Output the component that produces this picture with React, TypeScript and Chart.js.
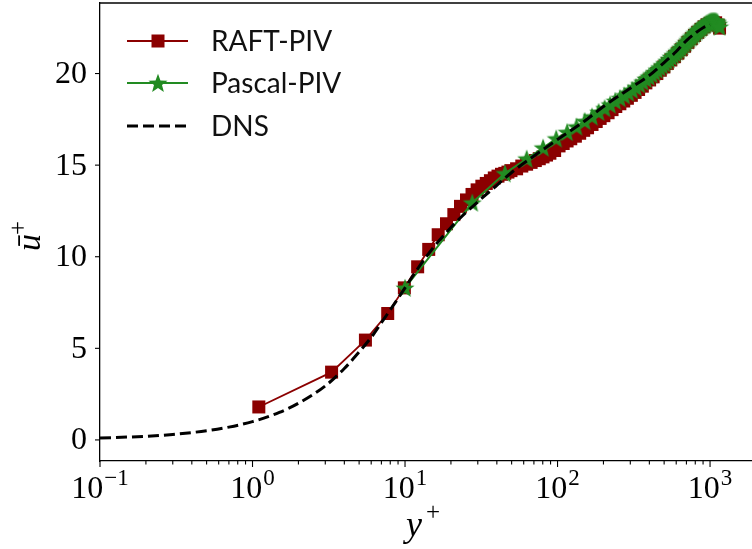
import React, { useEffect, useRef } from "react";
import { Chart, registerables } from "chart.js";

Chart.register(...registerables);

// ---------- data ----------
const raftYPlus = [
  1.1, 3.3, 5.5, 7.7, 9.9, 12.1, 14.3, 16.5, 18.7, 20.9, 23.1, 25.3, 27.5, 29.7, 31.9, 34.1, 36.3, 38.5,
  40.7, 42.9, 45.1, 47.3, 49.5, 53.9, 58.3, 62.7, 67.1, 71.5, 75.9, 80.3, 84.7, 89.1, 95.7, 102.3, 108.9,
  115.5, 122.1, 130.9, 139.7, 148.5, 157.3, 168.3, 179.3, 190.3, 201.3, 214.5, 227.7, 240.9, 256.3, 271.7,
  287.1, 304.7, 322.3, 339.9, 359.7, 379.5, 401.5, 423.5, 447.7, 471.9, 498.3, 524.7, 553.3, 584.1, 614.9,
  647.9, 680.9, 716.1, 753.5, 790.9, 830.5, 872.3, 914.1, 955.9, 999.9, 1043.9, 1087.9, 1131.9, 1154,
];
const raftU = [
  1.8, 3.7, 5.45, 6.9, 8.3, 9.45, 10.4, 11.2, 11.8, 12.3, 12.75, 13.1, 13.4, 13.65, 13.85, 14.0, 14.15, 14.3,
  14.4, 14.5, 14.55, 14.62, 14.7, 14.8, 14.95, 15.05, 15.15, 15.25, 15.35, 15.45, 15.55, 15.65, 15.8, 16.05, 16.18,
  16.32, 16.44, 16.58, 16.74, 16.9, 17.04, 17.22, 17.38, 17.55, 17.7, 17.86, 18.03, 18.2, 18.35, 18.5,
  18.65, 18.81, 18.97, 19.13, 19.31, 19.49, 19.65, 19.82, 20.0, 20.18, 20.36, 20.55, 20.74, 20.92, 21.11,
  21.3, 21.49, 21.7, 21.9, 22.08, 22.25, 22.41, 22.55, 22.66, 22.74, 22.78, 22.77, 22.64, 22.48,
];

const pascalYPlus = [
  10, 27.6, 45.2, 62.8, 80.4, 98, 115.6, 133.2, 150.8, 168.4, 186, 203.6, 221.2, 238.8, 256.4, 274, 291.6,
  309.2, 326.8, 344.4, 362, 379.6, 397.2, 414.8, 432.4, 450, 467.6, 485.2, 502.8, 520.4, 538, 555.6, 573.2,
  590.8, 608.4, 626, 643.6, 661.2, 678.8, 696.4, 714, 731.6, 749.2, 766.8, 784.4, 802, 819.6, 837.2, 854.8,
  872.4, 890, 907.6, 925.2, 942.8, 960.4, 978, 995.6, 1013.2, 1030.8, 1048.4, 1066, 1083.6, 1101.2, 1118.8,
  1136.4, 1154,
];
const pascalU = [
  8.3, 12.95, 14.55, 15.35, 15.95, 16.45, 16.8, 17.1, 17.4, 17.65, 17.9, 18.1, 18.3, 18.5, 18.65, 18.8, 18.95,
  19.1, 19.25, 19.4, 19.55, 19.7, 19.82, 19.95, 20.07, 20.2, 20.32, 20.44, 20.55, 20.67, 20.78, 20.9, 21.0,
  21.1, 21.2, 21.3, 21.4, 21.5, 21.6, 21.7, 21.8, 21.9, 21.98, 22.06, 22.14, 22.22, 22.3, 22.37, 22.44,
  22.5, 22.56, 22.62, 22.67, 22.72, 22.76, 22.8, 22.83, 22.85, 22.86, 22.87, 22.87, 22.86, 22.84, 22.8,
  22.7, 22.55,
];

const dnsYPlus = [
  0.1, 0.2, 0.3, 0.5, 0.7, 1, 1.5, 2, 3, 4, 5, 6, 7, 8, 10, 12, 15, 20, 25, 30, 40, 50, 70, 100, 150, 200,
  300, 400, 500, 600, 700, 800, 900, 1000,
];
const dnsU = [
  0.1, 0.2, 0.3, 0.5, 0.7, 1.0, 1.5, 2.0, 2.95, 3.9, 4.8, 5.6, 6.4, 7.1, 8.3, 9.3, 10.4, 11.6, 12.4, 13.0,
  13.9, 14.6, 15.5, 16.4, 17.4, 18.2, 19.2, 19.9, 20.6, 21.2, 21.8, 22.2, 22.5, 22.65,
];

const xMajorTicks = [0.1, 1, 10, 100, 1000];
const xTickExponents = ["\u22121", "0", "1", "2", "3"];
const yTicks = [0, 5, 10, 15, 20];
const yTickLabels = ["0", "5", "10", "15", "20"];
const legendLabels = ["RAFT-PIV", "Pascal-PIV", "DNS"];

const RAFT_COLOR = "#8b0000";
const PASCAL_COLOR = "#228b22";
const SERIF = "'Liberation Serif', 'DejaVu Serif', serif";
const SANS = "Lato, 'DejaVu Sans', sans-serif";

function makeStar(size: number, color: string): HTMLCanvasElement {
  const c = document.createElement("canvas");
  c.width = size;
  c.height = size;
  const ctx = c.getContext("2d")!;
  const cx = size / 2;
  const cy = size / 2 + 0.8;
  const R = size / 2;
  const r = R * 0.42;
  ctx.beginPath();
  for (let i = 0; i < 10; i++) {
    const ang = -Math.PI / 2 + (i * Math.PI) / 5;
    const rad = i % 2 === 0 ? R : r;
    ctx.lineTo(cx + rad * Math.cos(ang), cy + rad * Math.sin(ang));
  }
  ctx.closePath();
  ctx.fillStyle = color;
  ctx.fill();
  return c;
}

export default function App() {
  const ref = useRef<HTMLCanvasElement | null>(null);

  useEffect(() => {
    document.body.style.margin = "0";
    const canvas = ref.current;
    if (!canvas) return;
    const star = makeStar(20, PASCAL_COLOR);

    const decor = {
      id: "decor",
      afterDraw(chart: any) {
        const { ctx, chartArea: ca, scales } = chart;
        const xs = scales.x;
        const ys = scales.y;
        ctx.save();
        ctx.strokeStyle = "#000";
        ctx.fillStyle = "#000";
        // top spine
        ctx.lineWidth = 1.3;
        ctx.beginPath();
        ctx.moveTo(ca.left, ca.top);
        ctx.lineTo(ca.right, ca.top);
        ctx.stroke();
        // x ticks (major + minor)
        ctx.lineWidth = 1.1;
        for (let d = -1; d <= 3; d++) {
          for (let k = 1; k <= 9; k++) {
            const v = k * Math.pow(10, d);
            if (v < xs.min || v > xs.max) continue;
            const px = xs.getPixelForValue(v);
            const len = k === 1 ? 6 : 3.5;
            ctx.beginPath();
            ctx.moveTo(px, ca.bottom);
            ctx.lineTo(px, ca.bottom + len);
            ctx.stroke();
          }
        }
        // y ticks + labels
        ctx.textAlign = "right";
        ctx.textBaseline = "middle";
        ctx.font = `32px ${SERIF}`;
        yTicks.forEach((v, i) => {
          const py = ys.getPixelForValue(v);
          ctx.beginPath();
          ctx.moveTo(ca.left - 5, py);
          ctx.lineTo(ca.left, py);
          ctx.stroke();
          ctx.fillText(yTickLabels[i], 87, py + 1);
        });
        // x tick labels 10^n
        ctx.textBaseline = "alphabetic";
        ctx.textAlign = "left";
        xMajorTicks.forEach((v, i) => {
          const px = xs.getPixelForValue(v);
          ctx.font = `32px ${SERIF}`;
          const wb = ctx.measureText("10").width;
          ctx.font = `23px ${SERIF}`;
          const we = ctx.measureText(xTickExponents[i]).width;
          const x0 = px - (wb + we + 1) / 2;
          ctx.font = `32px ${SERIF}`;
          ctx.fillText("10", x0, 498);
          ctx.font = `23px ${SERIF}`;
          ctx.fillText(xTickExponents[i], x0 + wb + 1, 485);
        });
        // x title y+
        ctx.font = `italic 36px ${SERIF}`;
        ctx.fillText("y", 406, 536);
        ctx.font = `25px ${SERIF}`;
        ctx.fillText("+", 426, 520);
        // y title ū+
        ctx.save();
        ctx.translate(40, 251);
        ctx.rotate(-Math.PI / 2);
        ctx.font = `italic 34px ${SERIF}`;
        ctx.fillText("\u016B", 0, 0);
        const wu = ctx.measureText("\u016B").width;
        ctx.font = `25px ${SERIF}`;
        ctx.textBaseline = "middle";
        ctx.fillText("+", wu - 1, -21);
        ctx.restore();

        // legend
        const rows = [41, 83, 126];
        const lx0 = 127;
        const lx1 = 188;
        const mx = 158;
        ctx.strokeStyle = RAFT_COLOR;
        ctx.lineWidth = 1.8;
        ctx.beginPath();
        ctx.moveTo(lx0, rows[0]);
        ctx.lineTo(lx1, rows[0]);
        ctx.stroke();
        ctx.fillStyle = RAFT_COLOR;
        ctx.fillRect(mx - 6.5, rows[0] - 6.5, 13, 13);
        ctx.strokeStyle = PASCAL_COLOR;
        ctx.lineWidth = 2;
        ctx.beginPath();
        ctx.moveTo(lx0, rows[1]);
        ctx.lineTo(lx1, rows[1]);
        ctx.stroke();
        ctx.drawImage(star, mx - star.width / 2, rows[1] - star.height / 2);
        ctx.strokeStyle = "#000";
        ctx.lineWidth = 3;
        ctx.setLineDash([11, 5]);
        ctx.beginPath();
        ctx.moveTo(lx0, rows[2]);
        ctx.lineTo(lx1, rows[2]);
        ctx.stroke();
        ctx.setLineDash([]);
        ctx.fillStyle = "#111";
        ctx.font = `28px ${SANS}`;
        ctx.textBaseline = "middle";
        legendLabels.forEach((t, i) => ctx.fillText(t, 211, rows[i] + 1));
        ctx.restore();
      },
    };

    const chart = new Chart(canvas, {
      type: "line",
      data: {
        datasets: [
          {
            label: "DNS",
            data: dnsYPlus.map((x, i) => ({ x, y: dnsU[i] })),
            borderColor: "#000",
            borderWidth: 3,
            borderDash: [11, 5],
            pointRadius: 0,
            cubicInterpolationMode: "monotone",
            fill: false,
          },
          {
            label: "Pascal-PIV",
            data: pascalYPlus.map((x, i) => ({ x, y: pascalU[i] })),
            borderColor: PASCAL_COLOR,
            borderWidth: 2,
            pointStyle: star as any,
            pointRadius: 10,
            pointBackgroundColor: PASCAL_COLOR,
            pointBorderWidth: 0,
            tension: 0,
            fill: false,
          },
          {
            label: "RAFT-PIV",
            data: raftYPlus.map((x, i) => ({ x, y: raftU[i] })),
            borderColor: RAFT_COLOR,
            borderWidth: 1.8,
            pointStyle: "rect",
            pointRadius: 9.2,
            pointBackgroundColor: RAFT_COLOR,
            pointBorderColor: RAFT_COLOR,
            pointBorderWidth: 0,
            tension: 0,
            fill: false,
          },
        ],
      },
      options: {
        responsive: false,
        animation: false,
        events: [],
        layout: { autoPadding: false, padding: { top: 3, left: 0, right: 0, bottom: 0 } },
        plugins: { legend: { display: false }, tooltip: { enabled: false } },
        scales: {
          x: {
            type: "logarithmic",
            min: 0.1,
            max: 1884,
            ticks: { display: false },
            grid: { display: false },
            border: { display: true, color: "#000", width: 1.3 },
            afterFit: (s: any) => {
              s.height = 88;
              s.paddingLeft = 0;
              s.paddingRight = 0;
            },
          },
          y: {
            type: "linear",
            min: -1.15,
            max: 23.85,
            afterBuildTicks: (s: any) => {
              s.ticks = yTicks.map((v) => ({ value: v }));
            },
            ticks: { display: false },
            grid: { display: false },
            border: { display: true, color: "#000", width: 1.3 },
            afterFit: (s: any) => {
              s.width = 100;
              s.paddingTop = 0;
              s.paddingBottom = 0;
            },
          },
        },
      },
      plugins: [decor],
    } as any);

    return () => chart.destroy();
  }, []);

  return (
    <div style={{ width: 752, height: 549, background: "#fff" }}>
      <canvas ref={ref} width={752} height={549} style={{ display: "block" }} />
    </div>
  );
}
